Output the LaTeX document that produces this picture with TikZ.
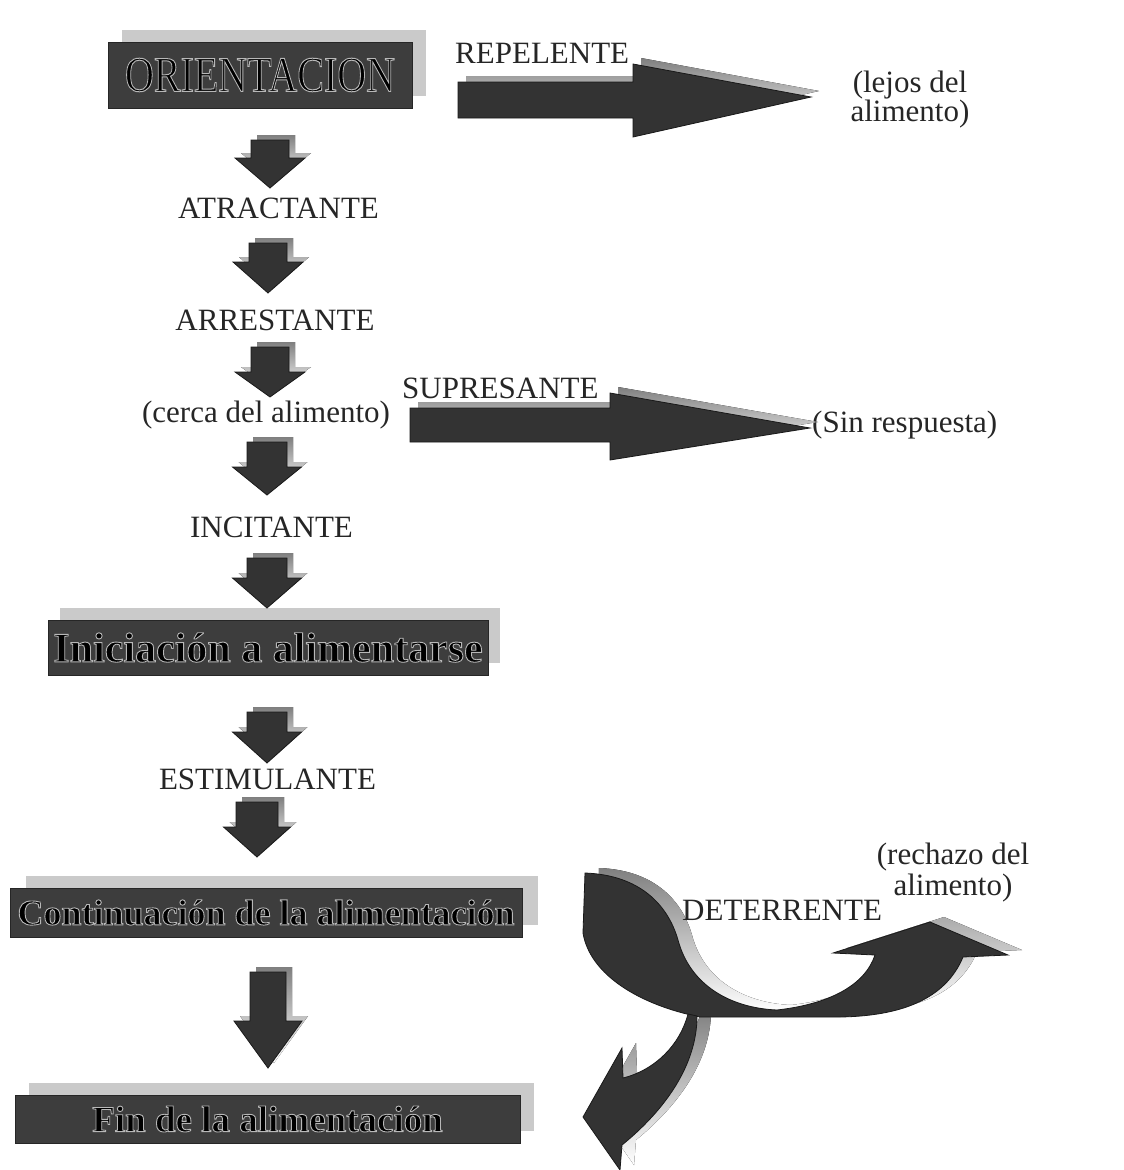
\documentclass[tikz,border=0pt]{standalone}
\usepackage{fontspec}
\setmainfont{Liberation Serif}
\usepackage{graphicx}
\usetikzlibrary{shadows}
\definecolor{boxfill}{HTML}{3D3D3D}
\definecolor{arrfill}{HTML}{333333}
\definecolor{shade}{HTML}{CACACA}
\definecolor{ink}{HTML}{262626}
% text drawn with a light grey outline (fill + stroke)
\newcommand\halotext[2]{\special{pdf:literal direct 2 Tr #1 w 0.72 G}#2\special{pdf:literal direct 0 Tr}}
% down block arrow: centre x, top, head top, tip, shaft width, head width
\newcommand\dnarrow[6]{%
  \fill[shade] ({#1-#5/2+6},{#2-5}) -- ({#1+#5/2+6},{#2-5}) -- ({#1+#5/2+6},{#3-5})
    -- ({#1+#6/2+6},{#3-5}) -- ({#1+6},{#4-5}) -- ({#1-#6/2+6},{#3-5})
    -- ({#1-#5/2+6},{#3-5}) -- cycle;
  \filldraw[blockarrow] ({#1-#5/2},#2) -- ({#1+#5/2},#2) -- ({#1+#5/2},#3)
    -- ({#1+#6/2},#3) -- (#1,#4) -- ({#1-#6/2},#3) -- ({#1-#5/2},#3) -- cycle;
}
\begin{document}
\begin{tikzpicture}[x=1pt,y=-1pt,
  blockarrow/.style={fill=arrfill,draw=black!90,line width=0.8pt,line join=miter},
  lbl/.style={text=ink,inner sep=0pt,font=\fontsize{31}{31}\selectfont},
  boxnode/.style={fill=boxfill,draw=black!85,line width=0.8pt,inner sep=0pt,text=black},
  boxshadow/.style={drop shadow={shadow xshift=#1,shadow yshift=12pt,fill=shade,opacity=1}},
]
\useasboundingbox (0,0) rectangle (1124,1170);
\fill[white] (0,0) rectangle (1124,1170);

% ---------- boxes ----------
\node[boxnode,boxshadow=14pt,minimum width=304pt,minimum height=66pt] (orient) at (260,75)
  {\fontsize{50}{50}\selectfont\scalebox{0.8}[1]{\halotext{1.0}{ORIENTACION}}};
\node[boxnode,boxshadow=12pt,minimum width=440pt,minimum height=55pt] (inic) at (268,647.5)
  {\fontsize{42}{42}\selectfont\bfseries\halotext{0.9}{Iniciación a alimentarse}};
\node[boxnode,boxshadow=16pt,minimum width=512pt,minimum height=49pt] (cont) at (266,912.5)
  {\fontsize{36}{36}\selectfont\bfseries\halotext{0.9}{Continuación de la alimentación}};
\node[boxnode,boxshadow=14pt,minimum width=505pt,minimum height=48pt] (fin) at (267.5,1119)
  {\fontsize{37}{37}\selectfont\bfseries\halotext{0.9}{Fin de la alimentación}};

% ---------- labels ----------
\node[lbl,anchor=base west] (repel) at (455,63) {REPELENTE};
\node[lbl,anchor=north,align=center,font=\fontsize{31}{25}\selectfont] (lejos) at (910,70.5) {(lejos del\\alimento)};
\node[lbl,anchor=base] (atra) at (278.5,218) {ATRACTANTE};
\node[lbl,anchor=base] (arre) at (275,330) {ARRESTANTE};
\node[lbl,anchor=base] (cerca) at (266,422) {(cerca del alimento)};
\node[lbl,anchor=base west] (supr) at (402,398) {SUPRESANTE};
\node[lbl,anchor=base west] (sinr) at (812,432) {(Sin respuesta)};
\node[lbl,anchor=base] (inci) at (271.5,537) {INCITANTE};
\node[lbl,anchor=base] (esti) at (267.5,789) {ESTIMULANTE};
\node[lbl,anchor=north,align=center] (rech) at (953,842.5) {(rechazo del\\alimento)};

% ---------- vertical block arrows ----------
\dnarrow{270}{140}{158}{188}{38}{70}
\dnarrow{268}{243}{262}{293}{38}{70}
\dnarrow{270}{347}{372}{397}{38}{70}
\dnarrow{267}{442}{467}{495}{40}{69}
\dnarrow{267}{558}{578}{608}{40}{69}
\dnarrow{267}{712}{732}{763}{40}{69}
\dnarrow{257}{802}{827}{857}{42}{67}
\dnarrow{268}{972}{1021}{1068}{36}{68}

% ---------- horizontal block arrows ----------
\fill[shade,shift={(8,-6)}] (458,82) -- (633,82) -- (633,64) -- (811,97) -- (633,137) -- (633,118) -- (458,118) -- cycle;
\filldraw[blockarrow] (458,82) -- (633,82) -- (633,64) -- (811,97) -- (633,137) -- (633,118) -- (458,118) -- cycle;
\fill[shade,shift={(8,-6)}] (410,408) -- (610,408) -- (610,393) -- (810,428) -- (610,460) -- (610,442) -- (410,442) -- cycle;
\filldraw[blockarrow] (410,408) -- (610,408) -- (610,393) -- (810,428) -- (610,460) -- (610,442) -- (410,442) -- cycle;

% ---------- curved DETERRENTE arrows ----------
\begin{scope}[shift={(14,-5)}]
\fill[shade] (585,873) .. controls (640,875) and (668,905) .. (678,940)
  .. controls (690,985) and (730,1008) .. (777,1010)
  .. controls (830,1004) and (865,985) .. (875,955) -- (833,953) -- (930,922) -- (1008,955) -- (963,957)
  .. controls (945,1000) and (900,1016) .. (840,1017) -- (700,1017)
  .. controls (640,1005) and (590,975) .. (583,933) -- cycle;
\fill[shade] (688,1014) .. controls (680,1045) and (655,1070) .. (623,1078) -- (622,1048) -- (583,1117)
  -- (620,1170) -- (622,1145) .. controls (665,1110) and (697,1065) .. (697,1016) -- cycle;
\end{scope}
\filldraw[blockarrow] (585,873) .. controls (640,875) and (668,905) .. (678,940)
  .. controls (690,985) and (730,1008) .. (777,1010)
  .. controls (830,1004) and (865,985) .. (875,955) -- (833,953) -- (930,922) -- (1008,955) -- (963,957)
  .. controls (945,1000) and (900,1016) .. (840,1017) -- (700,1017)
  .. controls (640,1005) and (590,975) .. (583,933) -- cycle;
\filldraw[blockarrow] (688,1014) .. controls (680,1045) and (655,1070) .. (623,1078) -- (622,1048) -- (583,1117)
  -- (620,1170) -- (622,1145) .. controls (665,1110) and (697,1065) .. (697,1016) -- cycle;
\node[lbl,anchor=base west] (dete) at (682,920) {DETERRENTE};
\end{tikzpicture}
\end{document}
